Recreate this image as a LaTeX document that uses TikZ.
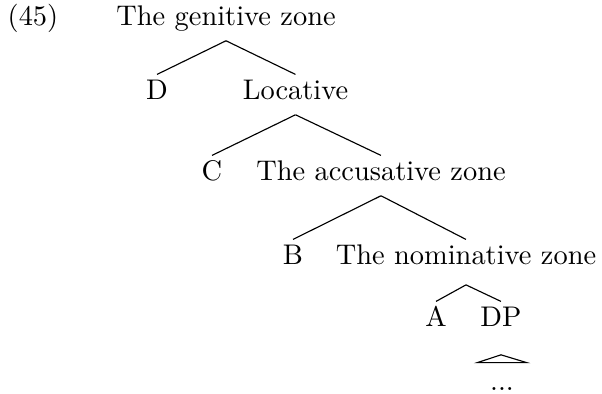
\documentclass[tikz,border=0pt]{standalone}
\usepackage{tikz}
\usetikzlibrary{positioning,calc}
\begin{document}
\begin{tikzpicture}[x=0.352pt,y=-0.352pt,
  lbl/.style={anchor=base,inner xsep=0pt,inner ysep=3pt,text height=5.8pt,text depth=2pt}]
  \useasboundingbox (0,0) rectangle (602,394);
  \node[lbl] (ex) at (33,26) {(45)};
  \node[lbl] (gen) at (226,26) {The genitive zone};
  \node[lbl] (D) at (157,100) {D};
  \node[lbl] (loc) at (295.5,100) {Locative};
  \node[lbl] (C) at (212,181) {C};
  \node[lbl] (acc) at (381,181) {The accusative zone};
  \node[lbl] (B) at (293,265) {B};
  \node[lbl] (nom) at (466,265) {The nominative zone};
  \node[lbl] (A) at (436,327) {A};
  \node[lbl] (DP) at (501,327) {DP};
  \node[lbl,minimum width=16.9pt] (dots) at (502,391) {...};
  % branches
  \draw (gen.south) -- (D.north);
  \draw (gen.south) -- (loc.north);
  \draw (loc.south) -- (C.north);
  \draw (loc.south) -- (acc.north);
  \draw (acc.south) -- (B.north);
  \draw (acc.south) -- (nom.north);
  \draw ([yshift=-1.8pt]nom.south) -- (A.north);
  \draw ([yshift=-1.8pt]nom.south) -- (DP.north);
  % roof
  \draw ([yshift=-4.6pt]DP.south) -- ([yshift=1pt]dots.north west) -- ([yshift=1pt]dots.north east) -- cycle;
\end{tikzpicture}
\end{document}
